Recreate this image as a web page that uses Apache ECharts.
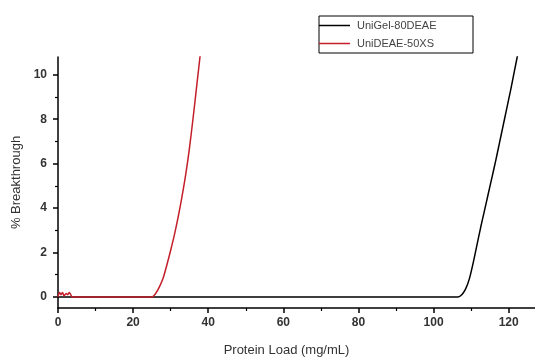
<!DOCTYPE html>
<html>
<head>
<meta charset="utf-8">
<script src="https://cdn.jsdelivr.net/npm/echarts@6/dist/echarts.min.js"></script>
<style>
  html, body { margin: 0; padding: 0; background: #fff; }
  #chart { width: 535px; height: 358px; }
</style>
</head>
<body>
<div id="chart"></div>
<script>
// UniGel-80DEAE (black)
const gelX = [0, 106.5, 107.5, 108.5, 109.5, 110.5, 111.5, 112.5, 113.5, 114.5, 115.5, 116.5, 117.5, 118.5, 119.5, 120.5, 121.5, 122.5]
const gelY = [0, 0, 0.1, 0.35, 0.8, 1.5, 2.3, 3.1, 3.85, 4.6, 5.35, 6.1, 6.9, 7.7, 8.5, 9.3, 10.15, 11.0]

// UniDEAE-50XS (red)
const xsX = [0, 0.4, 0.8, 1.2, 1.6, 2.2, 2.6, 3.0, 3.4, 3.8, 25, 26, 27, 28, 29, 30, 31, 32, 33, 34, 35, 36, 37, 38]
const xsY = [0, 0.2, 0.1, 0.2, 0.05, 0.15, 0.1, 0.2, 0.1, 0, 0, 0.15, 0.45, 0.85, 1.45, 2.1, 2.8, 3.6, 4.5, 5.5, 6.7, 8.1, 9.6, 11.1]

const xMajor = [0, 20, 40, 60, 80, 100, 120]
const xMinor = [10, 30, 50, 70, 90, 110]
const yMajor = [0, 2, 4, 6, 8, 10]
const yMinor = [1, 3, 5, 7, 9]

const zip = (xs, ys) => xs.map((x, i) => [x, ys[i]])

const chart = echarts.init(document.getElementById('chart'))

const labelStyle = {
  color: '#333',
  fontFamily: 'Liberation Sans, Arial, sans-serif',
  fontWeight: 'bold',
  fontSize: 12,
}

chart.setOption({
  animation: false,
  grid: { left: 58, right: 0, top: 57, bottom: 50, containLabel: false, outerBoundsMode: 'none' },
  legend: {
    orient: 'vertical',
    left: 319,
    top: 16,
    padding: [3, 4, 3, 0],
    icon: 'rect',
    itemWidth: 31,
    itemHeight: 1.5,
    itemGap: 5,
    borderColor: '#000',
    borderWidth: 1,
    backgroundColor: '#fff',
    textStyle: {
      color: '#444',
      fontFamily: 'Liberation Sans, Arial, sans-serif',
      fontSize: 11,
      lineHeight: 13,
      width: 112,
      padding: [0, 0, 0, 2],
    },
    data: ['UniGel-80DEAE', 'UniDEAE-50XS'],
  },
  xAxis: [
    {
      type: 'value',
      min: 0,
      max: 127,
      name: 'Protein Load (mg/mL)',
      nameLocation: 'middle',
      nameGap: 36,
      nameTextStyle: {
        color: '#333',
        fontFamily: 'Liberation Sans, Arial, sans-serif',
        fontSize: 13,
        padding: [0, 20, 0, 0],
      },
      splitLine: { show: false },
      axisLine: { onZero: false, lineStyle: { color: '#000', width: 1.5 } },
      axisTick: { customValues: xMajor, length: 5, lineStyle: { color: '#000', width: 1.5 } },
      axisLabel: Object.assign({ customValues: xMajor, margin: 9 }, labelStyle),
    },
    {
      type: 'value',
      min: 0,
      max: 127,
      position: 'bottom',
      splitLine: { show: false },
      axisLine: { show: false, onZero: false },
      axisTick: { customValues: xMinor, length: 3, lineStyle: { color: '#000', width: 1.2 } },
      axisLabel: { show: false },
    },
  ],
  yAxis: [
    {
      type: 'value',
      min: -0.5,
      max: 10.8,
      name: '% Breakthrough',
      nameLocation: 'middle',
      nameGap: 30,
      nameTextStyle: {
        color: '#333',
        fontFamily: 'Liberation Sans, Arial, sans-serif',
        fontSize: 13,
      },
      splitLine: { show: false },
      axisLine: { show: true, lineStyle: { color: '#000', width: 1.5 } },
      axisTick: { customValues: yMajor, length: 5, lineStyle: { color: '#000', width: 1.5 } },
      axisLabel: Object.assign({ customValues: yMajor, margin: 11 }, labelStyle),
    },
    {
      type: 'value',
      min: -0.5,
      max: 10.8,
      position: 'left',
      splitLine: { show: false },
      axisLine: { show: false },
      axisTick: { customValues: yMinor, length: 3, lineStyle: { color: '#000', width: 1.2 } },
      axisLabel: { show: false },
    },
  ],
  series: [
    {
      name: 'UniGel-80DEAE',
      type: 'line',
      data: zip(gelX, gelY),
      symbol: 'none',
      smooth: 0.3,
      clip: true,
      itemStyle: { color: '#000' },
      lineStyle: { color: '#000', width: 1.5 },
    },
    {
      name: 'UniDEAE-50XS',
      type: 'line',
      data: zip(xsX, xsY),
      symbol: 'none',
      smooth: 0.3,
      clip: true,
      itemStyle: { color: '#c41e2a' },
      lineStyle: { color: '#c41e2a', width: 1.5 },
    },
  ],
})
</script>
</body>
</html>
